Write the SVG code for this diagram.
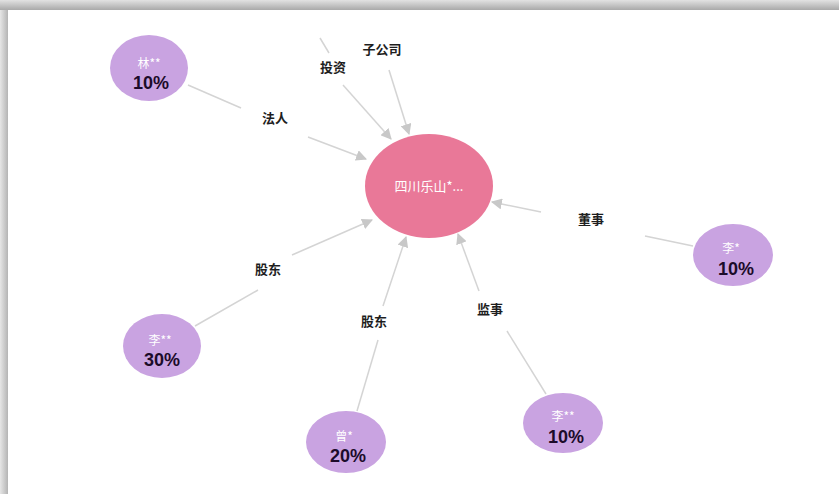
<svg xmlns="http://www.w3.org/2000/svg" width="839" height="494" viewBox="0 0 839 494">
<defs>
<linearGradient id="gTop" x1="0" y1="0" x2="0" y2="1">
<stop offset="0" stop-color="#e2e2e2"/><stop offset="1" stop-color="#a9a9a9"/>
</linearGradient>
<linearGradient id="gLeft" x1="0" y1="0" x2="1" y2="0">
<stop offset="0" stop-color="#e6e6e6"/><stop offset="1" stop-color="#b4b4b4"/>
</linearGradient>
<marker id="arr" viewBox="0 0 10 10" refX="9" refY="5" markerWidth="11" markerHeight="11" markerUnits="userSpaceOnUse" orient="auto">
<path d="M0,0 L10,5 L0,10 Z" fill="#c8c8c8"/>
</marker>
<style>
.edge{stroke:#d4d4d4;stroke-width:1.5;fill:none}
.lbl{font-family:"Noto Sans CJK SC","Noto Sans",sans-serif;font-weight:bold;font-size:13px;fill:#1e1e1e;text-anchor:middle}
.p{fill:#c9a3e1}
.nm{font-family:"Noto Sans CJK SC","Noto Sans",sans-serif;font-size:12px;fill:#ffffff;text-anchor:middle}
.pc{font-family:"Liberation Sans",Arial,sans-serif;font-weight:bold;font-size:18px;fill:#1c0b2a;text-anchor:middle}
</style>
</defs>
<rect width="839" height="494" fill="#ffffff"/>
<rect x="0" y="0" width="839" height="10" fill="url(#gTop)"/>
<rect x="0" y="10" width="8" height="484" fill="url(#gLeft)"/>

<g id="connectors">
<line class="edge" x1="188" y1="85" x2="241" y2="108"/>
<line class="edge" x1="308" y1="137" x2="366" y2="159" marker-end="url(#arr)"/>
<text class="lbl" x="275" y="123">法人</text>

<line class="edge" x1="320" y1="38" x2="329" y2="53"/>
<line class="edge" x1="343" y1="85" x2="391" y2="139" marker-end="url(#arr)"/>
<text class="lbl" x="333" y="72">投资</text>

<line class="edge" x1="389" y1="70" x2="409" y2="134" marker-end="url(#arr)"/>
<text class="lbl" x="382" y="54">子公司</text>

<line class="edge" x1="693" y1="246" x2="645" y2="236"/>
<line class="edge" x1="541" y1="212" x2="492" y2="202" marker-end="url(#arr)"/>
<text class="lbl" x="591" y="224">董事</text>

<line class="edge" x1="195" y1="326" x2="258" y2="290"/>
<line class="edge" x1="292" y1="255" x2="372" y2="220" marker-end="url(#arr)"/>
<text class="lbl" x="268" y="274">股东</text>

<line class="edge" x1="357" y1="411" x2="378" y2="340"/>
<line class="edge" x1="383" y1="306" x2="406" y2="237" marker-end="url(#arr)"/>
<text class="lbl" x="374" y="326">股东</text>

<line class="edge" x1="546" y1="394" x2="507" y2="331"/>
<line class="edge" x1="479" y1="291" x2="458" y2="234" marker-end="url(#arr)"/>
<text class="lbl" x="490" y="314">监事</text>
</g>

<g id="center">
<ellipse cx="429" cy="186" rx="64" ry="52" fill="#e97898"/>
<text x="429" y="191" font-family="'Noto Sans CJK SC','Noto Sans',sans-serif" font-size="13" fill="#ffffff" text-anchor="middle">四川乐山*...</text>
</g>

<g id="n-lin">
<ellipse class="p" cx="149" cy="68" rx="39" ry="33"/>
<text class="nm" x="149" y="68">林**</text>
<text class="pc" x="151" y="89">10%</text>
</g>

<g id="n-li1">
<ellipse class="p" cx="733" cy="255" rx="40" ry="31"/>
<text class="nm" x="731" y="253">李*</text>
<text class="pc" x="736" y="275">10%</text>
</g>

<g id="n-li2">
<ellipse class="p" cx="162" cy="346" rx="39" ry="32"/>
<text class="nm" x="160" y="345">李**</text>
<text class="pc" x="162" y="366">30%</text>
</g>

<g id="n-zeng">
<ellipse class="p" cx="346" cy="442" rx="40" ry="31"/>
<text class="nm" x="344" y="441">曾*</text>
<text class="pc" x="348" y="462">20%</text>
</g>

<g id="n-li3">
<ellipse class="p" cx="563" cy="423" rx="40" ry="30"/>
<text class="nm" x="563" y="421">李**</text>
<text class="pc" x="566" y="443">10%</text>
</g>
</svg>
